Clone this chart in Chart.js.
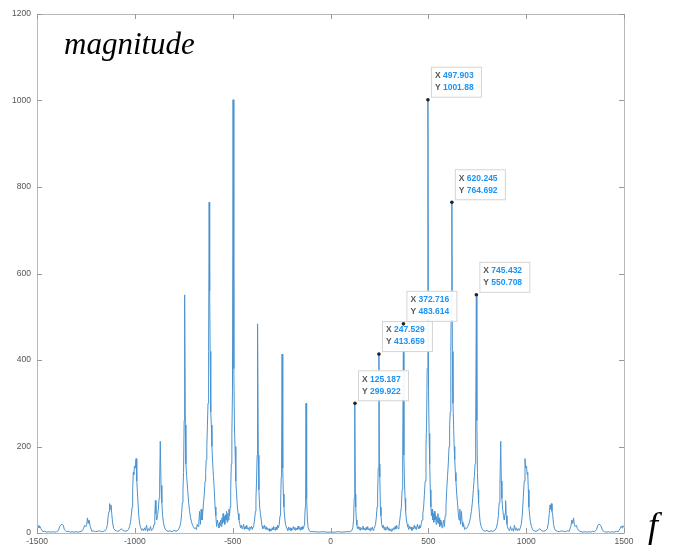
<!DOCTYPE html>
<html>
<head>
<meta charset="utf-8">
<script src="https://cdn.jsdelivr.net/npm/chart.js@4/dist/chart.umd.min.js"></script>
<style>
  html, body { margin: 0; padding: 0; background: #fff; }
  #wrap { position: relative; width: 673px; height: 546px; }
  .mathlbl { position: absolute; font-family: "Liberation Serif", "DejaVu Serif", serif; font-style: italic; color: #000; white-space: nowrap; line-height: 1; }
</style>
</head>
<body>
<div id="wrap">
  <canvas id="spectrum" width="673" height="546"></canvas>
  <div class="mathlbl" style="left:64px; top:28px; font-size:31px;">magnitude</div>
  <div class="mathlbl" style="left:648px; top:507px; font-size:36px;">f</div>
</div>
<script>
/* spectrum data, [frequency, magnitude] */

// negative frequencies, -1500 .. 0
const spectrumNeg = [
  [-1500,14],[-1494,17],[-1490,12],[-1486,16],[-1480,10],[-1470,3],[-1460,4],[-1450,2],[-1440,3],[-1430,2],
  [-1420,3],[-1410,2],[-1400,3],[-1390,6],[-1384,15],[-1378,19],[-1372,20],[-1366,18],[-1360,8],[-1350,3],
  [-1340,4],[-1330,2],[-1320,3],[-1310,2],[-1300,3],[-1290,2],[-1280,3],[-1270,5],[-1262,10],[-1256,18],
  [-1250,15],[-1246,20],[-1242,35],[-1238,22],[-1234,30],[-1228,15],[-1220,4],[-1210,5],[-1200,3],[-1190,4],
  [-1180,5],[-1170,3],[-1160,4],[-1150,6],[-1145,10],[-1140,20],[-1136,40],[-1132,50],[-1129,68],[-1126,55],
  [-1122,65],[-1118,45],[-1114,25],[-1108,10],[-1100,6],[-1090,4],[-1080,5],[-1070,10],[-1060,6],[-1050,4],
  [-1040,5],[-1032,8],[-1027,15],[-1022,25],[-1018,40],[-1014,60],[-1011,100],[-1008,140],[-1005,135],[-1002,155],
  [-998,150],[-994,172],[-990,120],[-985,80],[-980,40],[-975,20],[-970,12],[-965,6],[-960,10],[-955,5],
  [-950,12],[-945,6],[-940,18],[-935,4],[-930,10],[-925,6],[-920,15],[-915,5],[-910,8],[-906,12],
  [-902,20],[-898,40],[-895,75],[-892,45],[-888,30],[-884,40],[-880,55],[-876,80],[-873,120],[-870,212],
  [-866,110],[-862,70],[-858,40],[-854,25],[-848,12],[-840,6],[-830,4],[-820,5],[-810,3],[-800,6],
  [-790,4],[-780,6],[-775,10],[-770,15],[-765,25],[-761,45],[-757,70],[-754,100],[-751,140],[-748,260],
  [-745.432,550.708],[-742,250],[-739,160],[-735,130],[-730,100],[-725,70],[-720,50],[-715,35],[-710,25],[-705,18],
  [-700,14],[-695,10],[-690,12],[-685,8],[-681,20],[-677,15],[-673,25],[-669,50],[-665,20],[-661,55],
  [-657,30],[-653,45],[-649,70],[-645,90],[-641,120],[-638,140],[-635,170],[-632,200],[-629,250],[-626,300],
  [-623,420],[-620.245,764.692],[-617.5,560],[-615,420],[-612,280],[-609,250],[-606,200],[-602,160],[-598,130],[-594,100],
  [-590,60],[-586,40],[-582,15],[-578,30],[-574,20],[-570,12],[-567,25],[-564,18],[-561,30],[-558,15],
  [-555,35],[-552,22],[-549,45],[-546,25],[-543,38],[-540,20],[-537,42],[-534,30],[-531,50],[-528,25],
  [-525,45],[-522,30],[-519,55],[-516,40],[-513,60],[-510,100],[-507,160],[-504,230],[-501,330],[-497.903,1001.88],
  [-494,380],[-491,250],[-488,200],[-484,120],[-480,90],[-476,60],[-472,45],[-468,30],[-464,22],[-460,12],
  [-456,18],[-452,10],[-448,14],[-444,20],[-440,8],[-436,15],[-432,10],[-428,18],[-424,9],[-420,12],
  [-416,6],[-412,14],[-408,10],[-404,16],[-400,8],[-396,14],[-392,20],[-388,30],[-384,50],[-381,80],
  [-378,120],[-375,180],[-372.716,483.614],[-369,180],[-366,100],[-362,60],[-358,45],[-354,30],[-350,16],[-346,10],
  [-342,12],[-338,18],[-334,9],[-330,15],[-326,8],[-322,12],[-318,6],[-314,10],[-310,4],[-306,9],
  [-302,5],[-298,12],[-294,7],[-290,15],[-286,10],[-282,6],[-278,14],[-274,8],[-270,18],[-266,12],
  [-262,20],[-258,40],[-255,60],[-252,130],[-250,160],[-247.529,413.659],[-244,150],[-241,90],[-238,60],[-234,35],
  [-230,20],[-226,14],[-222,10],[-218,6],[-214,14],[-210,8],[-206,12],[-202,5],[-198,10],[-194,7],
  [-190,15],[-186,8],[-182,13],[-178,6],[-174,11],[-170,7],[-166,16],[-162,9],[-158,12],[-154,6],
  [-150,14],[-146,8],[-142,15],[-138,10],[-135,18],[-132,30],[-129,60],[-127,90],[-125.187,299.922],[-123,150],
  [-121,80],[-118,30],[-114,12],[-108,5],[-100,3],[-80,3],[-60,2],[-40,3],[-20,2]
];

// positive frequencies, 0 .. 1500
const spectrumPos = [
  [0,2],[20,2],[40,3],[60,2],[80,3],[100,3],[108,5],[114,12],[118,30],[121,80],
  [123,150],[125.187,299.922],[127,90],[129,60],[132,30],[135,18],[138,10],[142,15],[146,8],[150,14],
  [154,6],[158,12],[162,9],[166,16],[170,7],[174,11],[178,6],[182,13],[186,8],[190,15],
  [194,7],[198,10],[202,5],[206,12],[210,8],[214,14],[218,6],[222,10],[226,14],[230,20],
  [234,35],[238,60],[241,90],[244,150],[247.529,413.659],[250,160],[252,130],[255,60],[258,40],[262,20],
  [266,12],[270,18],[274,8],[278,14],[282,6],[286,10],[290,15],[294,7],[298,12],[302,5],
  [306,9],[310,4],[314,10],[318,6],[322,12],[326,8],[330,15],[334,9],[338,18],[342,12],
  [346,10],[350,16],[354,30],[358,45],[362,60],[366,100],[369,180],[372.716,483.614],[375,180],[378,120],
  [381,80],[384,50],[388,30],[392,20],[396,14],[400,8],[404,16],[408,10],[412,14],[416,6],
  [420,12],[424,9],[428,18],[432,10],[436,15],[440,8],[444,20],[448,14],[452,10],[456,18],
  [460,12],[464,22],[468,30],[472,45],[476,60],[480,90],[484,120],[488,200],[491,250],[494,380],
  [497.903,1001.88],[501,330],[504,230],[507,160],[510,100],[513,60],[516,40],[519,55],[522,30],[525,45],
  [528,25],[531,50],[534,30],[537,42],[540,20],[543,38],[546,25],[549,45],[552,22],[555,35],
  [558,15],[561,30],[564,18],[567,25],[570,12],[574,20],[578,30],[582,15],[586,40],[590,60],
  [594,100],[598,130],[602,160],[606,200],[609,250],[612,280],[615,420],[617.5,560],[620.245,764.692],[623,420],
  [626,300],[629,250],[632,200],[635,170],[638,140],[641,120],[645,90],[649,70],[653,45],[657,30],
  [661,55],[665,20],[669,50],[673,25],[677,15],[681,20],[685,8],[690,12],[695,10],[700,14],
  [705,18],[710,25],[715,35],[720,50],[725,70],[730,100],[735,130],[739,160],[742,250],[745.432,550.708],
  [748,260],[751,140],[754,100],[757,70],[761,45],[765,25],[770,15],[775,10],[780,6],[790,4],
  [800,6],[810,3],[820,5],[830,4],[840,6],[848,12],[854,25],[858,40],[862,70],[866,110],
  [870,212],[873,120],[876,80],[880,55],[884,40],[888,30],[892,45],[895,75],[898,40],[902,20],
  [906,12],[910,8],[915,5],[920,15],[925,6],[930,10],[935,4],[940,18],[945,6],[950,12],
  [955,5],[960,10],[965,6],[970,12],[975,20],[980,40],[985,80],[990,120],[994,172],[998,150],
  [1002,155],[1005,135],[1008,140],[1011,100],[1014,60],[1018,40],[1022,25],[1027,15],[1032,8],[1040,5],
  [1050,4],[1060,6],[1070,10],[1080,5],[1090,4],[1100,6],[1108,10],[1114,25],[1118,45],[1122,65],
  [1126,55],[1129,68],[1132,50],[1136,40],[1140,20],[1145,10],[1150,6],[1160,4],[1170,3],[1180,5],
  [1190,4],[1200,3],[1210,5],[1220,4],[1228,15],[1234,30],[1238,22],[1242,35],[1246,20],[1250,15],
  [1256,18],[1262,10],[1270,5],[1280,3],[1290,2],[1300,3],[1310,2],[1320,3],[1330,2],[1340,4],
  [1350,3],[1360,8],[1366,18],[1372,20],[1378,19],[1384,15],[1390,6],[1400,3],[1410,2],[1420,3],
  [1430,2],[1440,3],[1450,2],[1460,4],[1470,3],[1480,10],[1486,16],[1490,12],[1494,17],[1500,14]
];

// data tips shown on the plot
const tipFreqs = [125.187, 247.529, 372.716, 497.903, 620.245, 745.432];
const tipMags  = [299.922, 413.659, 483.614, 1001.88, 764.692, 550.708];
const tipFreqText = ['125.187', '247.529', '372.716', '497.903', '620.245', '745.432'];
const tipMagText  = ['299.922', '413.659', '483.614', '1001.88', '764.692', '550.708'];

const xTicks = [-1500, -1000, -500, 0, 500, 1000, 1500];
const yTicks = [0, 200, 400, 600, 800, 1000, 1200];

const points = spectrumNeg.concat(spectrumPos).map(p => ({x: p[0], y: p[1]}));

// matlab style box with inward ticks
const axesBox = {
    id: 'axesBox',
    afterDatasetsDraw(chart) {
        const {ctx, chartArea: a, scales} = chart;
        ctx.save();
        ctx.strokeStyle = '#b8b8b8';
        ctx.lineWidth = 1;
        ctx.beginPath();
        ctx.rect(a.left + 0.5, a.top + 0.5, a.right - a.left, a.bottom - a.top);
        ctx.stroke();
        ctx.strokeStyle = '#999';
        ctx.beginPath();
        xTicks.forEach(v => {
            const px = Math.round(scales.x.getPixelForValue(v)) + 0.5;
            ctx.moveTo(px, a.bottom); ctx.lineTo(px, a.bottom - 5);
            ctx.moveTo(px, a.top); ctx.lineTo(px, a.top + 5);
        });
        yTicks.forEach(v => {
            const py = Math.round(scales.y.getPixelForValue(v)) + 0.5;
            ctx.moveTo(a.left, py); ctx.lineTo(a.left + 5, py);
            ctx.moveTo(a.right, py); ctx.lineTo(a.right - 5, py);
        });
        ctx.stroke();
        ctx.restore();
    }
};

// data tips: dot on the peak and a small label box
const dataTips = {
    id: 'dataTips',
    afterDraw(chart) {
        const {ctx, scales} = chart;
        ctx.save();
        ctx.font = 'bold 8.5px "Liberation Sans", Arial, sans-serif';
        ctx.textBaseline = 'middle';
        tipFreqs.forEach((f, i) => {
            const px = scales.x.getPixelForValue(f);
            const py = scales.y.getPixelForValue(tipMags[i]);
            const bx = px + 3, by = py - 33, bw = 50, bh = 30;
            ctx.fillStyle = 'rgba(255,255,255,0.95)';
            ctx.fillRect(bx, by, bw, bh);
            ctx.strokeStyle = '#d4d4d4';
            ctx.lineWidth = 1;
            ctx.strokeRect(bx + 0.5, by + 0.5, bw, bh);
            ctx.fillStyle = '#555';
            ctx.fillText('X', bx + 4, by + 9);
            ctx.fillText('Y', bx + 4, by + 21);
            ctx.fillStyle = '#1a93f5';
            ctx.fillText(tipFreqText[i], bx + 12, by + 9);
            ctx.fillText(tipMagText[i], bx + 12, by + 21);
            ctx.fillStyle = '#222';
            ctx.beginPath();
            ctx.arc(px, py, 1.8, 0, Math.PI * 2);
            ctx.fill();
        });
        ctx.restore();
    }
};

document.addEventListener('DOMContentLoaded', function() {
    const ctx = document.getElementById('spectrum').getContext('2d');
    const spectrumChart = new Chart(ctx, {
        type: 'line',
        data: {
            datasets: [{
                label: 'magnitude',
                data: points,
                borderColor: '#4a93d0',
                borderWidth: 1,
                pointRadius: 0,
                tension: 0,
                fill: false
            }]
        },
        options: {
            responsive: false,
            animation: false,
            layout: { padding: { left: 0, right: 49, top: 14, bottom: 0 } },
            plugins: {
                legend: { display: false },
                tooltip: { enabled: false }
            },
            scales: {
                x: {
                    type: 'linear',
                    min: -1500,
                    max: 1500,
                    afterBuildTicks: s => { s.ticks = xTicks.map(v => ({value: v})); },
                    afterFit: s => { s.height = 13; },
                    grid: { display: false, drawTicks: false, tickLength: 0 },
                    border: { display: false },
                    ticks: {
                        color: '#555',
                        padding: 4,
                        maxRotation: 0,
                        callback: v => String(v),
                        font: { family: '"Liberation Sans", Arial, sans-serif', size: 8.5 }
                    }
                },
                y: {
                    min: 0,
                    max: 1200,
                    afterBuildTicks: s => { s.ticks = yTicks.map(v => ({value: v})); },
                    afterFit: s => { s.width = 37; },
                    grid: { display: false, drawTicks: false, tickLength: 0 },
                    border: { display: false },
                    ticks: {
                        color: '#555',
                        padding: 6,
                        callback: v => String(v),
                        font: { family: '"Liberation Sans", Arial, sans-serif', size: 8.5 }
                    }
                }
            }
        },
        plugins: [axesBox, dataTips]
    });
});
</script>
</body>
</html>
